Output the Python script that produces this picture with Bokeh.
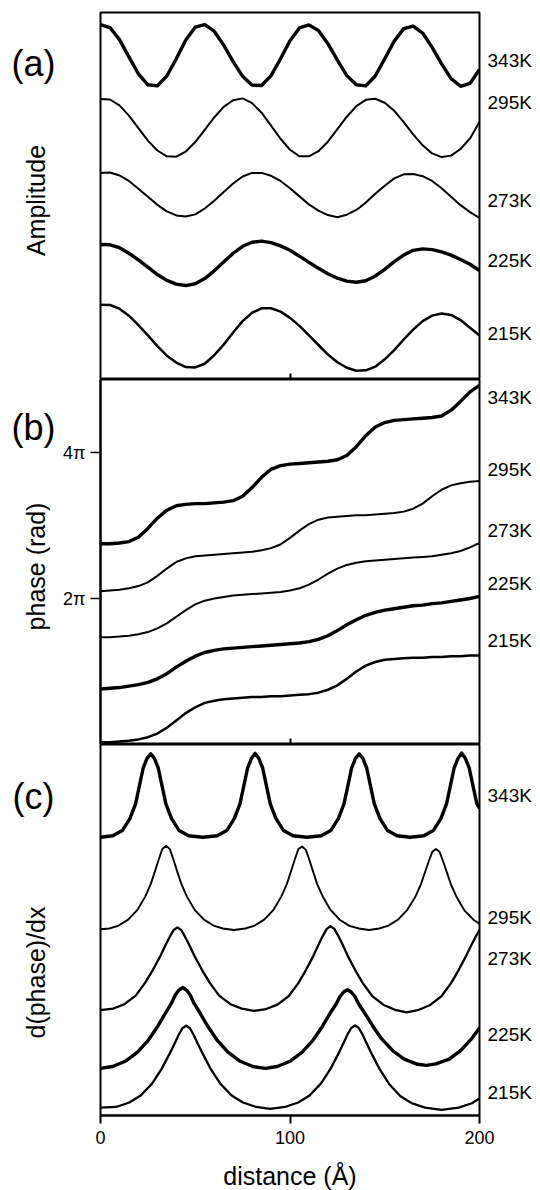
from math import pi
from bokeh.plotting import figure
from bokeh.layouts import column, row
from bokeh.models import FixedTicker, Range1d, LinearAxis
from bokeh.core.properties import value
from bokeh.embed import file_html
from bokeh.resources import INLINE

FONT = "Liberation Sans"

temps = ["343K", "295K", "273K", "225K", "215K"]
widths = [3.4, 2.0, 2.0, 3.4, 2.5]

# ---------------- panel (a): amplitude ----------------
x_grid = [0, 5, 10, 15, 20, 25, 30, 35, 40, 45, 50, 55, 60, 65, 70, 75, 80, 85, 90, 95,
          100, 105, 110, 115, 120, 125, 130, 135, 140, 145, 150, 155, 160, 165, 170, 175,
          180, 185, 190, 195, 200]

amp_343 = [9.67, 9.59, 9.26, 8.79, 8.33, 8.03, 8.00, 8.27, 8.74, 9.25, 9.60, 9.67, 9.49, 9.11,
           8.66, 8.26, 8.02, 8.01, 8.28, 8.74, 9.23, 9.58, 9.66, 9.51, 9.15, 8.70, 8.28, 8.03,
           8.00, 8.27, 8.74, 9.22, 9.56, 9.63, 9.44, 9.05, 8.60, 8.20, 7.99, 8.07, 8.45]
amp_295 = [7.64, 7.63, 7.47, 7.19, 6.85, 6.51, 6.24, 6.08, 6.07, 6.21, 6.47, 6.80, 7.14, 7.43,
           7.61, 7.66, 7.53, 7.27, 6.92, 6.56, 6.26, 6.08, 6.08, 6.22, 6.48, 6.82, 7.16, 7.45,
           7.62, 7.65, 7.54, 7.32, 7.01, 6.68, 6.38, 6.16, 6.06, 6.10, 6.28, 6.57, 7.02]
amp_273 = [5.63, 5.64, 5.56, 5.41, 5.20, 4.98, 4.76, 4.58, 4.47, 4.44, 4.50, 4.66, 4.87, 5.11,
           5.34, 5.53, 5.63, 5.63, 5.55, 5.41, 5.21, 4.99, 4.77, 4.60, 4.48, 4.42, 4.49, 4.62,
           4.82, 5.06, 5.28, 5.48, 5.59, 5.60, 5.54, 5.41, 5.21, 4.98, 4.75, 4.56, 4.40]
amp_225 = [3.68, 3.67, 3.59, 3.44, 3.26, 3.06, 2.86, 2.70, 2.60, 2.56, 2.61, 2.75, 2.96, 3.20,
           3.44, 3.63, 3.74, 3.77, 3.73, 3.64, 3.52, 3.36, 3.19, 3.03, 2.88, 2.76, 2.68, 2.65,
           2.69, 2.82, 3.00, 3.21, 3.39, 3.52, 3.56, 3.54, 3.48, 3.39, 3.27, 3.14, 2.97]
amp_215 = [2.04, 2.03, 1.93, 1.74, 1.48, 1.20, 0.91, 0.65, 0.46, 0.34, 0.33, 0.43, 0.66, 0.95,
           1.28, 1.59, 1.82, 1.94, 1.94, 1.85, 1.68, 1.46, 1.20, 0.94, 0.68, 0.47, 0.32, 0.24,
           0.25, 0.35, 0.55, 0.80, 1.09, 1.36, 1.59, 1.74, 1.80, 1.76, 1.62, 1.41, 1.20]
amp_label_y = [8.7, 7.55, 4.88, 3.25, 1.24]

# ---------------- panel (b): phase, in units of pi ----------------
ph_343 = [2.75, 2.75, 2.76, 2.78, 2.84, 2.96, 3.10, 3.21, 3.27, 3.29, 3.30, 3.30, 3.31, 3.32,
          3.34, 3.40, 3.52, 3.66, 3.77, 3.82, 3.84, 3.85, 3.86, 3.87, 3.88, 3.90, 3.96, 4.08,
          4.23, 4.35, 4.41, 4.44, 4.45, 4.46, 4.47, 4.48, 4.50, 4.58, 4.70, 4.83, 4.92]
ph_295 = [2.10, 2.11, 2.12, 2.14, 2.17, 2.22, 2.31, 2.41, 2.50, 2.55, 2.58, 2.59, 2.60, 2.61,
          2.62, 2.63, 2.64, 2.66, 2.69, 2.74, 2.83, 2.93, 3.02, 3.08, 3.11, 3.12, 3.13, 3.14,
          3.14, 3.15, 3.16, 3.17, 3.19, 3.23, 3.30, 3.40, 3.49, 3.55, 3.58, 3.60, 3.61]
ph_273 = [1.47, 1.47, 1.48, 1.49, 1.51, 1.54, 1.59, 1.66, 1.75, 1.84, 1.92, 1.97, 2.00, 2.02,
          2.04, 2.05, 2.06, 2.07, 2.08, 2.09, 2.11, 2.14, 2.19, 2.26, 2.34, 2.41, 2.46, 2.49,
          2.51, 2.52, 2.53, 2.54, 2.55, 2.56, 2.57, 2.58, 2.60, 2.62, 2.65, 2.70, 2.76]
ph_225 = [0.76, 0.77, 0.78, 0.80, 0.82, 0.85, 0.90, 0.97, 1.06, 1.14, 1.21, 1.26, 1.29, 1.31,
          1.32, 1.33, 1.34, 1.35, 1.36, 1.37, 1.38, 1.39, 1.41, 1.44, 1.49, 1.56, 1.64, 1.71,
          1.77, 1.81, 1.84, 1.86, 1.88, 1.90, 1.91, 1.93, 1.94, 1.96, 1.98, 2.00, 2.03]
ph_215 = [0.03, 0.03, 0.04, 0.05, 0.07, 0.10, 0.15, 0.23, 0.33, 0.43, 0.51, 0.57, 0.60, 0.62,
          0.63, 0.64, 0.65, 0.65, 0.66, 0.66, 0.67, 0.68, 0.69, 0.71, 0.75, 0.81, 0.90, 1.00,
          1.08, 1.13, 1.16, 1.17, 1.18, 1.19, 1.19, 1.20, 1.20, 1.21, 1.21, 1.22, 1.22]
ph_label_y = [4.75, 3.77, 2.93, 2.20, 1.42]
ph_ticks = [2, 4]
ph_tick_labels = ["2\u03c0", "4\u03c0"]

# ---------------- panel (c): d(phase)/dx ----------------
dx_343 = [0, 6.5, 11.5, 15.5, 18.5, 20.5, 22.5, 24.5, 26.5, 28.5, 30.5, 32.5, 34.5, 37.5, 41.5,
          46.5, 54.0, 61.6, 66.6, 70.6, 73.6, 75.6, 77.6, 79.6, 81.6, 83.6, 85.6, 87.6, 89.6,
          92.6, 96.6, 101.6, 109.0, 116.5, 121.5, 125.5, 128.5, 130.5, 132.5, 134.5, 136.5,
          138.5, 140.5, 142.5, 144.5, 147.5, 151.5, 156.5, 163.5, 170.6, 175.6, 179.6, 182.6,
          184.6, 186.6, 188.6, 190.6, 192.6, 194.6, 196.6, 198.6, 200]
dy_343 = [7.50, 7.54, 7.68, 8.00, 8.40, 8.88, 9.36, 9.62, 9.75, 9.62, 9.36, 8.88, 8.40, 8.00,
          7.68, 7.54, 7.50, 7.54, 7.68, 8.00, 8.40, 8.88, 9.36, 9.62, 9.76, 9.62, 9.36, 8.88,
          8.40, 8.00, 7.68, 7.54, 7.50, 7.54, 7.68, 8.00, 8.40, 8.88, 9.36, 9.62, 9.75, 9.62,
          9.36, 8.88, 8.40, 8.00, 7.68, 7.54, 7.50, 7.54, 7.68, 8.00, 8.40, 8.88, 9.36, 9.62,
          9.77, 9.62, 9.36, 8.88, 8.40, 8.28]
dx_295 = [0, 4.6, 9.6, 14.6, 19.6, 23.6, 26.6, 28.6, 30.6, 32.6, 34.6, 36.6, 38.6, 40.6, 42.6,
          45.6, 49.6, 54.6, 59.6, 64.6, 70.5, 76.4, 81.4, 86.4, 91.4, 95.4, 98.4, 100.4, 102.4,
          104.4, 106.4, 108.4, 110.4, 112.4, 114.4, 117.4, 121.4, 126.4, 131.4, 136.4, 141.7,
          147, 152, 157, 162, 166, 169, 171, 173, 175, 177, 179, 181, 183, 185, 188, 192, 197, 200]
dy_295 = [5.02, 5.04, 5.12, 5.28, 5.55, 5.90, 6.25, 6.56, 6.88, 7.18, 7.27, 7.18, 6.88, 6.56,
          6.25, 5.90, 5.55, 5.28, 5.12, 5.04, 5.00, 5.04, 5.12, 5.28, 5.55, 5.90, 6.25, 6.56,
          6.88, 7.18, 7.25, 7.16, 6.86, 6.54, 6.23, 5.89, 5.54, 5.27, 5.11, 5.04, 5.00, 5.04,
          5.12, 5.28, 5.55, 5.88, 6.22, 6.52, 6.82, 7.10, 7.18, 7.10, 6.82, 6.52, 6.22, 5.88,
          5.53, 5.27, 5.17]
dx_273 = [0, 6.6, 12.6, 18.6, 23.6, 27.6, 31.6, 34.6, 36.6, 38.6, 40.6, 42.6, 44.6, 46.6, 49.6,
          53.6, 57.6, 62.6, 68.6, 74.6, 81.0, 87.4, 93.4, 99.4, 104.4, 108.4, 112.4, 115.4,
          117.4, 119.4, 121.4, 123.4, 125.4, 127.4, 130.4, 134.4, 138.4, 143.4, 149.4, 155.4,
          161.5, 168, 174, 180, 185, 189, 193, 196, 198, 200]
dy_273 = [2.84, 2.88, 3.00, 3.23, 3.58, 3.92, 4.30, 4.62, 4.82, 5.00, 5.07, 5.00, 4.82, 4.62,
          4.30, 3.92, 3.58, 3.23, 3.00, 2.88, 2.82, 2.87, 2.99, 3.22, 3.57, 3.92, 4.31, 4.64,
          4.85, 5.03, 5.10, 5.03, 4.85, 4.64, 4.31, 3.92, 3.57, 3.22, 2.98, 2.85, 2.78, 2.85,
          2.98, 3.22, 3.57, 3.92, 4.31, 4.62, 4.82, 5.00]
dx_225 = [0, 6.4, 13.4, 19.4, 25.4, 30.4, 34.4, 37.4, 39.4, 41.4, 43.4, 45.4, 47.4, 49.4, 52.4,
          56.4, 61.4, 67.4, 73.4, 80.4, 87.0, 93.3, 100.3, 106.3, 112.3, 117.3, 121.3, 124.3,
          126.3, 128.3, 130.3, 132.3, 134.3, 136.3, 139.3, 143.3, 148.3, 154.3, 160.3, 167.3,
          172.0, 177, 184, 190, 196, 200]
dy_225 = [1.27, 1.32, 1.47, 1.70, 2.04, 2.42, 2.77, 3.02, 3.24, 3.38, 3.45, 3.38, 3.24, 3.02,
          2.77, 2.42, 2.04, 1.70, 1.47, 1.32, 1.27, 1.32, 1.47, 1.70, 2.04, 2.42, 2.77, 3.00,
          3.20, 3.33, 3.39, 3.33, 3.20, 3.00, 2.77, 2.44, 2.07, 1.74, 1.52, 1.38, 1.35, 1.39,
          1.52, 1.75, 2.08, 2.36]
dx_215 = [0, 8.2, 15.2, 21.2, 27.2, 32.2, 36.2, 39.2, 41.2, 43.2, 45.2, 47.2, 49.2, 51.2, 54.2,
          58.2, 63.2, 69.2, 75.2, 82.2, 89.5, 97.3, 104.3, 110.3, 116.3, 121.3, 125.3, 128.3,
          130.3, 132.3, 134.3, 136.3, 138.3, 140.3, 143.3, 147.3, 152.3, 158.3, 164.3, 171.3,
          180.0, 189, 196, 200]
dy_215 = [0.21, 0.23, 0.35, 0.54, 0.86, 1.25, 1.64, 1.95, 2.17, 2.35, 2.42, 2.35, 2.17, 1.95,
          1.64, 1.25, 0.86, 0.54, 0.35, 0.23, 0.18, 0.23, 0.35, 0.54, 0.86, 1.25, 1.64, 1.96,
          2.18, 2.36, 2.43, 2.36, 2.18, 1.96, 1.64, 1.25, 0.85, 0.52, 0.33, 0.21, 0.15, 0.21,
          0.33, 0.46]
d_label_y = [8.62, 5.33, 4.24, 2.17, 0.61]

x_ticks = [0, 100, 200]

# texts of the left margin: panel tags and rotated axis titles
tag_text = ["(a)", "(b)", "(c)"]
tag_pos_y = [63, 427, 796]
title_text = ["Amplitude", "phase (rad)", "d(phase)/dx"]
title_pos_y = [200, 566, 972]

LEFT_W = 60       # width of the left text strip
BORDER_L = 40     # left border of each panel (room for the 2pi / 4pi ticks)
BORDER_R = 61


def base_fig(frame_h, y_range, top, bottom):
    p = figure(frame_width=379, frame_height=frame_h,
               x_range=Range1d(0, 200), y_range=y_range,
               output_backend="svg", toolbar_location=None,
               min_border_left=BORDER_L, min_border_right=BORDER_R,
               min_border_top=top, min_border_bottom=bottom)
    p.grid.visible = False
    p.outline_line_color = "black"
    p.outline_line_width = 2
    p.outline_line_alpha = 1
    p.background_fill_color = "white"
    p.border_fill_color = "white"
    return p


def inner_xaxis(p):
    ax = p.xaxis[0]
    ax.ticker = FixedTicker(ticks=[], minor_ticks=[100])
    ax.minor_tick_in = 6
    ax.minor_tick_out = 0
    ax.minor_tick_line_width = 2
    ax.minor_tick_line_color = "black"
    ax.major_tick_in = 0
    ax.major_tick_out = 0
    ax.axis_line_color = None
    ax.major_label_standoff = 0


def right_labels(p, ys):
    ax = LinearAxis(ticker=FixedTicker(ticks=ys),
                    major_label_overrides={y: t for y, t in zip(ys, temps)})
    ax.axis_line_color = None
    ax.major_tick_in = 0
    ax.major_tick_out = 0
    ax.minor_tick_line_color = None
    ax.major_label_standoff = 8
    ax.major_label_text_font = FONT
    ax.major_label_text_font_size = "19px"
    ax.major_label_text_color = "black"
    p.add_layout(ax, "right")


# ---- (a)
fa = base_fig(367, Range1d(0, 10), 12, 0)
fa.yaxis.visible = False
inner_xaxis(fa)
for ys, w in zip([amp_343, amp_295, amp_273, amp_225, amp_215], widths):
    fa.line(x_grid, ys, line_color="black", line_width=w, line_join="round")
right_labels(fa, amp_label_y)

# ---- (b)
fb = base_fig(365, Range1d(0, 5), 0, 0)
inner_xaxis(fb)
yb = fb.yaxis[0]
yb.ticker = FixedTicker(ticks=ph_ticks)
yb.major_label_overrides = {t: s for t, s in zip(ph_ticks, ph_tick_labels)}
yb.major_tick_out = 10
yb.major_tick_in = 0
yb.major_tick_line_width = 1.5
yb.minor_tick_line_color = None
yb.axis_line_width = 2
yb.major_label_text_font = FONT
yb.major_label_text_font_size = "18px"
yb.major_label_text_color = "black"
yb.major_label_standoff = 5
for ys, w in zip([ph_343, ph_295, ph_273, ph_225, ph_215], widths):
    fb.line(x_grid, ys, line_color="black", line_width=w, line_join="round")
right_labels(fb, ph_label_y)

# ---- (c)
fc = base_fig(371, Range1d(0, 10), 0, 74)
fc.yaxis.visible = False
xc = fc.xaxis[0]
xc.ticker = FixedTicker(ticks=x_ticks)
xc.major_tick_out = 8
xc.major_tick_in = 0
xc.major_tick_line_width = 2
xc.minor_tick_line_color = None
xc.axis_line_width = 2
xc.major_label_text_font = FONT
xc.major_label_text_font_size = "18px"
xc.major_label_text_color = "black"
xc.major_label_standoff = 7
xc.axis_label = "distance (\u00c5)"
xc.axis_label_text_font = FONT
xc.axis_label_text_font_size = "25px"
xc.axis_label_text_font_style = "normal"
xc.axis_label_text_color = "black"
xc.axis_label_standoff = 15
c_widths = [3.4, 1.9, 2.3, 3.4, 2.3]
for xs, ys, w in zip([dx_343, dx_295, dx_273, dx_225, dx_215],
                     [dy_343, dy_295, dy_273, dy_225, dy_215], c_widths):
    fc.line(xs, ys, line_color="black", line_width=w, line_join="round")
right_labels(fc, d_label_y)

panels_h = 12 + 367 + 365 + 371 + 74

# ---- left strip with the panel tags and rotated titles
fl = figure(width=LEFT_W, height=panels_h, x_range=Range1d(0, LEFT_W),
            y_range=Range1d(panels_h, 0), output_backend="svg", toolbar_location=None,
            x_axis_location=None, y_axis_location=None,
            min_border_left=0, min_border_right=0, min_border_top=0, min_border_bottom=0)
fl.grid.visible = False
fl.outline_line_color = None
fl.background_fill_color = "white"
fl.border_fill_color = "white"
fl.text(x=[11, 11, 12], y=tag_pos_y, text=tag_text, text_align="left",
        text_baseline="middle", text_font=value(FONT), text_font_size="36px",
        text_color="black")
fl.text(x=[35, 35, 35], y=title_pos_y, text=title_text, angle=pi / 2,
        text_align="center", text_baseline="middle", text_font=value(FONT),
        text_font_size="25px", text_color="black")

layout = row(fl, column(fa, fb, fc, spacing=0), spacing=0)
open("out.html", "w").write(file_html(layout, INLINE))
